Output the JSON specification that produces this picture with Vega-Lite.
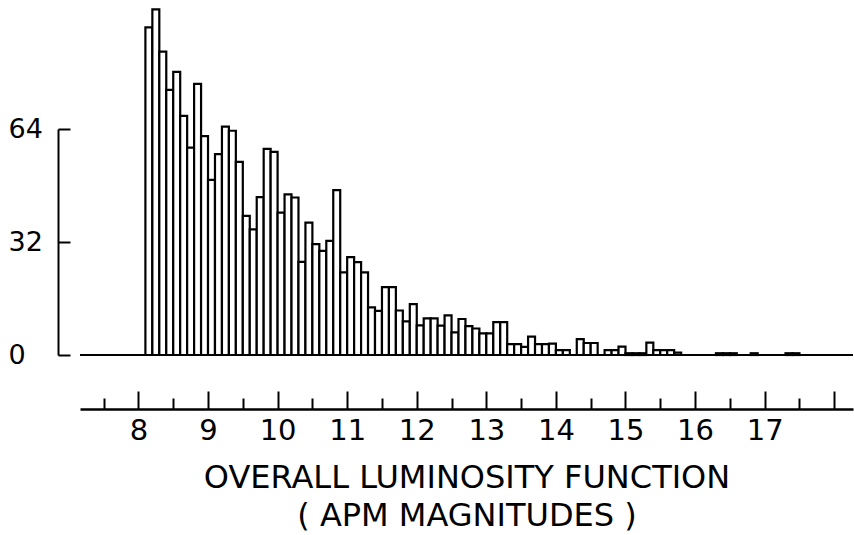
{
  "$schema": "https://vega.github.io/schema/vega-lite/v6.json",
  "autosize": "none",
  "width": 773,
  "height": 226,
  "padding": {"left": 80, "top": 129, "right": 1, "bottom": 180},
  "background": "white",
  "config": {
    "view": {"stroke": null},
    "font": "DejaVu Sans",
    "axis": {"grid": false, "domainColor": "black", "tickColor": "black", "labelColor": "black", "titleColor": "black", "labelFont": "DejaVu Sans", "titleFont": "DejaVu Sans", "titleFontWeight": "normal"}
  },
  "data": {"values": [
    {"lo": 8.1, "hi": 8.2, "n": 92.8},
    {"lo": 8.2, "hi": 8.3, "n": 97.9},
    {"lo": 8.3, "hi": 8.4, "n": 85.9},
    {"lo": 8.4, "hi": 8.5, "n": 75.1},
    {"lo": 8.5, "hi": 8.6, "n": 80.2},
    {"lo": 8.6, "hi": 8.7, "n": 67.7},
    {"lo": 8.7, "hi": 8.8, "n": 58.7},
    {"lo": 8.8, "hi": 8.9, "n": 76.8},
    {"lo": 8.9, "hi": 9.0, "n": 62.0},
    {"lo": 9.0, "hi": 9.1, "n": 49.6},
    {"lo": 9.1, "hi": 9.2, "n": 56.9},
    {"lo": 9.2, "hi": 9.3, "n": 64.7},
    {"lo": 9.3, "hi": 9.4, "n": 63.5},
    {"lo": 9.4, "hi": 9.5, "n": 54.7},
    {"lo": 9.5, "hi": 9.6, "n": 39.4},
    {"lo": 9.6, "hi": 9.7, "n": 35.6},
    {"lo": 9.7, "hi": 9.8, "n": 44.7},
    {"lo": 9.8, "hi": 9.9, "n": 58.4},
    {"lo": 9.9, "hi": 10.0, "n": 57.5},
    {"lo": 10.0, "hi": 10.1, "n": 40.3},
    {"lo": 10.1, "hi": 10.2, "n": 45.5},
    {"lo": 10.2, "hi": 10.3, "n": 44.6},
    {"lo": 10.3, "hi": 10.4, "n": 26.4},
    {"lo": 10.4, "hi": 10.5, "n": 37.5},
    {"lo": 10.5, "hi": 10.6, "n": 31.4},
    {"lo": 10.6, "hi": 10.7, "n": 29.5},
    {"lo": 10.7, "hi": 10.8, "n": 32.3},
    {"lo": 10.8, "hi": 10.9, "n": 46.7},
    {"lo": 10.9, "hi": 11.0, "n": 23.4},
    {"lo": 11.0, "hi": 11.1, "n": 27.7},
    {"lo": 11.1, "hi": 11.2, "n": 26.3},
    {"lo": 11.2, "hi": 11.3, "n": 23.4},
    {"lo": 11.3, "hi": 11.4, "n": 13.5},
    {"lo": 11.4, "hi": 11.5, "n": 12.5},
    {"lo": 11.5, "hi": 11.6, "n": 19.2},
    {"lo": 11.6, "hi": 11.7, "n": 19.2},
    {"lo": 11.7, "hi": 11.8, "n": 12.6},
    {"lo": 11.8, "hi": 11.9, "n": 9.5},
    {"lo": 11.9, "hi": 12.0, "n": 14.4},
    {"lo": 12.0, "hi": 12.1, "n": 8.4},
    {"lo": 12.1, "hi": 12.2, "n": 10.4},
    {"lo": 12.2, "hi": 12.3, "n": 10.4},
    {"lo": 12.3, "hi": 12.4, "n": 8.3},
    {"lo": 12.4, "hi": 12.5, "n": 11.2},
    {"lo": 12.5, "hi": 12.6, "n": 6.4},
    {"lo": 12.6, "hi": 12.7, "n": 10.2},
    {"lo": 12.7, "hi": 12.8, "n": 8.2},
    {"lo": 12.8, "hi": 12.9, "n": 7.5},
    {"lo": 12.9, "hi": 13.0, "n": 6.1},
    {"lo": 13.0, "hi": 13.1, "n": 6.1},
    {"lo": 13.1, "hi": 13.2, "n": 9.3},
    {"lo": 13.2, "hi": 13.3, "n": 9.3},
    {"lo": 13.3, "hi": 13.4, "n": 3.1},
    {"lo": 13.4, "hi": 13.5, "n": 3.1},
    {"lo": 13.5, "hi": 13.6, "n": 2.3},
    {"lo": 13.6, "hi": 13.7, "n": 5.2},
    {"lo": 13.7, "hi": 13.8, "n": 3.1},
    {"lo": 13.8, "hi": 13.9, "n": 3.1},
    {"lo": 13.9, "hi": 14.0, "n": 3.2},
    {"lo": 14.0, "hi": 14.1, "n": 1.4},
    {"lo": 14.1, "hi": 14.2, "n": 1.4},
    {"lo": 14.3, "hi": 14.4, "n": 4.5},
    {"lo": 14.4, "hi": 14.5, "n": 3.4},
    {"lo": 14.5, "hi": 14.6, "n": 3.4},
    {"lo": 14.7, "hi": 14.8, "n": 1.4},
    {"lo": 14.8, "hi": 14.9, "n": 1.4},
    {"lo": 14.9, "hi": 15.0, "n": 2.4},
    {"lo": 15.0, "hi": 15.1, "n": 0.5},
    {"lo": 15.1, "hi": 15.2, "n": 0.5},
    {"lo": 15.2, "hi": 15.3, "n": 0.5},
    {"lo": 15.3, "hi": 15.4, "n": 3.5},
    {"lo": 15.4, "hi": 15.5, "n": 1.4},
    {"lo": 15.5, "hi": 15.6, "n": 1.4},
    {"lo": 15.6, "hi": 15.7, "n": 1.4},
    {"lo": 15.7, "hi": 15.8, "n": 0.7},
    {"lo": 16.3, "hi": 16.4, "n": 0.5},
    {"lo": 16.4, "hi": 16.5, "n": 0.5},
    {"lo": 16.5, "hi": 16.6, "n": 0.5},
    {"lo": 16.8, "hi": 16.9, "n": 0.5},
    {"lo": 17.3, "hi": 17.4, "n": 0.5},
    {"lo": 17.4, "hi": 17.5, "n": 0.5}
  ]},
  "layer": [
    {
      "mark": {"type": "bar", "fill": "white", "stroke": "black", "strokeWidth": 2.2},
      "encoding": {
        "x": {
          "field": "lo", "type": "quantitative",
          "scale": {"domain": [7.16, 18.27], "nice": false, "zero": false},
          "axis": {
            "orient": "bottom",
            "offset": 54,
            "values": [7.5, 8, 8.5, 9, 9.5, 10, 10.5, 11, 11.5, 12, 12.5, 13, 13.5, 14, 14.5, 15, 15.5, 16, 16.5, 17, 17.5, 18],
            "labelExpr": "(datum.value % 1 === 0 && datum.value < 18) ? datum.value : ''",
            "domainWidth": 2.5,
            "tickWidth": 2,
            "tickSize": {"condition": {"test": "datum.value % 1 === 0", "value": -18}, "value": -11},
            "labelFontSize": 29,
            "labelPadding": 25,
            "labelBaseline": "top",
            "labelFlush": false,
            "labelOverlap": false,
            "title": ["OVERALL LUMINOSITY FUNCTION", "( APM MAGNITUDES )"],
            "titleFontSize": 32,
            "titleLineHeight": 38,
            "titlePadding": 10
          }
        },
        "x2": {"field": "hi"},
        "y": {
          "field": "n", "type": "quantitative",
          "scale": {"domain": [0, 64], "nice": false},
          "axis": {
            "orient": "left",
            "offset": 22,
            "values": [0, 32, 64],
            "domainWidth": 2,
            "tickWidth": 2,
            "tickSize": -12,
            "labelFontSize": 27,
            "labelPadding": 62,
            "labelAlign": "left",
            "labelBaseline": "middle",
            "labelFlush": false,
            "title": null
          }
        },
        "y2": {"datum": 0}
      }
    },
    {
      "mark": {"type": "rule", "color": "black", "strokeWidth": 2},
      "encoding": {"y": {"datum": 0}}
    }
  ]
}
